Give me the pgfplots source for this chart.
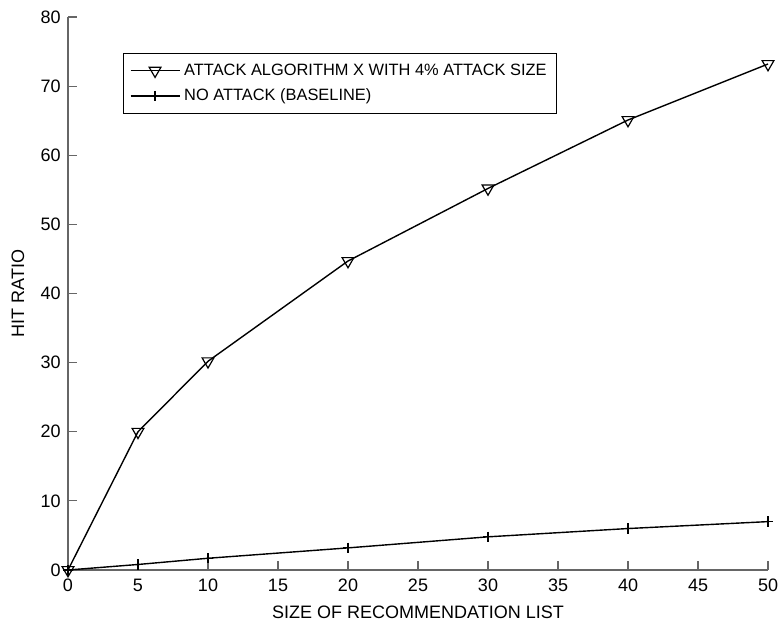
\documentclass[border=0pt]{standalone}
\usepackage{pgfplots}
\pgfplotsset{compat=1.18}
\usepackage{fontspec}
\setmainfont{Liberation Sans}
\begin{document}
\begin{tikzpicture}
\fontsize{9}{10.8}\selectfont
\path[use as bounding box] (-34pt,-28.5pt) rectangle (355.5pt,285pt);
\begin{axis}[
  at={(0,0)}, anchor=origin,
  scale only axis, width=350pt, height=276.5pt,
  xmin=0, xmax=50, ymin=0, ymax=80,
  axis x line*=bottom, axis y line*=left,
  axis line style={gray!80!black, line width=0.6pt},
  xtick={0,5,...,50}, ytick={0,10,...,80},
  tick align=inside, major tick length=4.5pt,
  tick style={gray!80!black, line width=0.6pt},
  ticklabel style={font=\fontsize{9}{10.8}\selectfont},
  /pgf/number format/assume math mode=true,
  xticklabel style={yshift=-1.5pt},
  yticklabel style={xshift=-0.5pt},
  xlabel={SIZE OF RECOMMENDATION LIST}, ylabel={HIT RATIO},
  label style={font=\fontsize{9}{10.8}\selectfont},
  xlabel style={yshift=-0.5pt},
  ylabel style={yshift=2pt},
  clip=false,
  legend style={at={(axis description cs:0.079,0.935)}, anchor=north west,
    draw=black, line width=0.6pt, font=\fontsize{8.2}{9.8}\selectfont,
    row sep=1.5pt, inner xsep=3pt, inner ysep=3pt},
  legend cell align=left,
  legend image code/.code={\draw[mark repeat=2,mark phase=2] plot coordinates {(0cm,0cm) (0.43cm,0cm) (0.86cm,0cm)};},
]
\addplot[black, line width=0.7pt, mark=triangle, mark options={rotate=180, solid, fill=white, line width=0.6pt}, mark size=3.4pt]
coordinates {(0,0) (5,20) (10,30.2) (20,44.7) (30,55.2) (40,65.1) (50,73.2)};
\addlegendentry{ATTACK ALGORITHM X WITH 4\% ATTACK SIZE}
\addplot[black, line width=0.7pt, mark=+, mark options={line width=0.6pt}, mark size=2.6pt]
coordinates {(0,0) (5,0.8) (10,1.7) (20,3.2) (30,4.8) (40,6.0) (50,7.0)};
\addlegendentry{NO ATTACK (BASELINE)}
\end{axis}
\end{tikzpicture}
\end{document}
